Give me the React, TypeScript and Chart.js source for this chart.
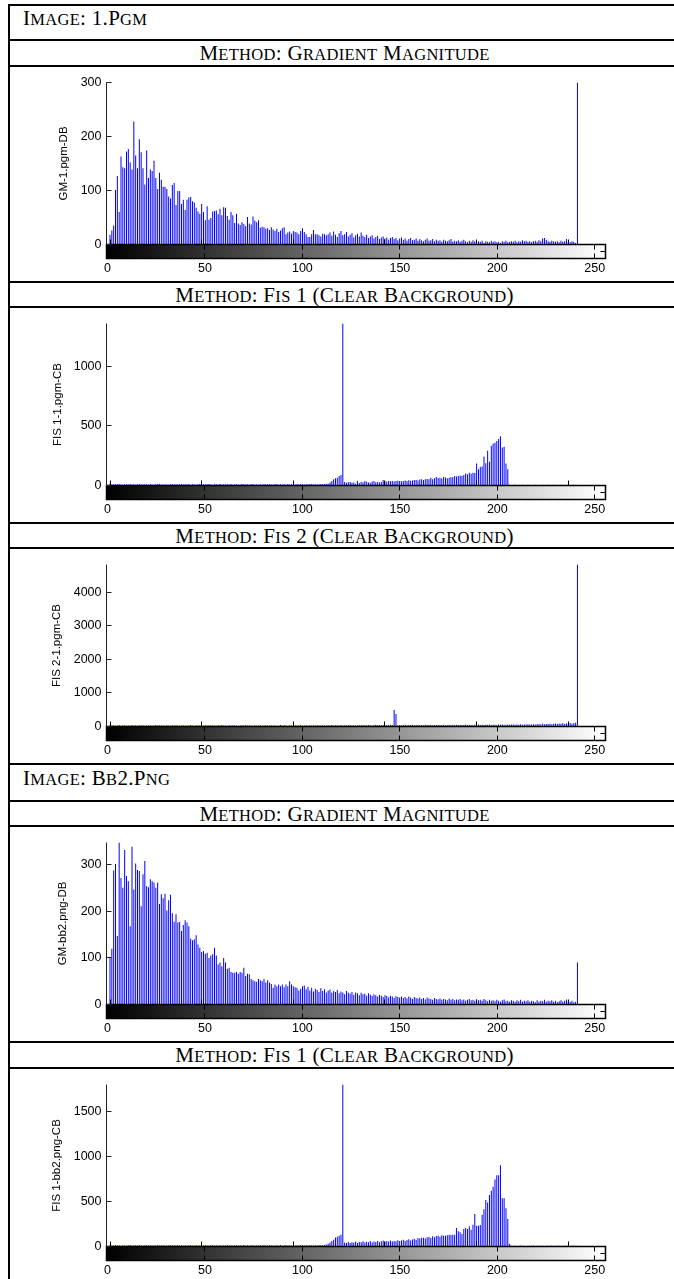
import React, { useEffect, useRef } from 'react';
import { Chart, registerables } from 'chart.js';

Chart.register(...registerables);

// ---------- data ----------
const BINS = Array.from({ length: 256 }, (_, i) => i); // histogram bins 0..255
const X_TICKS = [0, 50, 100, 150, 200, 250];

const GM_1 = [
  18, 26, 35, 101, 127, 60, 163, 143, 141, 172,
  177, 152, 139, 228, 165, 141, 195, 171, 141, 111,
  174, 123, 139, 136, 155, 123, 103, 133, 120, 107,
  107, 103, 89, 85, 110, 114, 73, 99, 99, 75,
  83, 64, 83, 87, 88, 80, 78, 68, 61, 57,
  75, 60, 45, 71, 46, 49, 61, 62, 63, 56,
  66, 54, 69, 68, 53, 46, 60, 54, 40, 57,
  39, 36, 41, 38, 34, 51, 39, 37, 52, 44,
  41, 45, 31, 33, 32, 29, 30, 27, 32, 28,
  25, 29, 23, 26, 30, 32, 19, 22, 24, 20,
  25, 23, 22, 19, 25, 30, 23, 19, 14, 14,
  19, 27, 19, 19, 17, 15, 20, 19, 17, 19,
  22, 16, 24, 18, 14, 21, 25, 17, 19, 23,
  15, 18, 21, 13, 17, 20, 15, 22, 16, 14,
  18, 12, 15, 17, 11, 14, 16, 10, 13, 15,
  11, 13, 9, 12, 14, 10, 12, 8, 11, 13,
  9, 11, 7, 10, 12, 8, 9, 11, 7, 10,
  8, 6, 9, 11, 7, 8, 10, 6, 9, 7,
  8, 5, 9, 7, 6, 8, 10, 5, 7, 6,
  8, 5, 7, 9, 6, 4, 7, 5, 8, 6,
  4, 6, 5, 7, 3, 6, 5, 4, 7, 5,
  6, 4, 5, 3, 6, 5, 7, 4, 5, 6,
  5, 7, 4, 6, 5, 8, 6, 7, 5, 6,
  4, 6, 7, 5, 8, 6, 11, 12, 9, 6,
  5, 7, 6, 5, 6, 4, 7, 5, 6, 10,
  5, 4, 6, 5, 3, 300,
];

const FIS1_1 = [
  12, 9, 11, 8, 10, 13, 9, 7, 11, 10,
  8, 12, 9, 11, 7, 10, 12, 8, 9, 11,
  10, 7, 13, 9, 8, 11, 10, 12, 8, 9,
  11, 9, 7, 10, 12, 8, 11, 9, 10, 13,
  8, 10, 9, 12, 7, 11, 9, 8, 10, 12,
  9, 11, 8, 10, 13, 9, 7, 11, 10, 8,
  12, 9, 10, 8, 11, 9, 12, 7, 10, 11,
  9, 8, 12, 10, 9, 11, 8, 10, 13, 9,
  10, 7, 11, 9, 12, 8, 10, 11, 9, 8,
  12, 10, 9, 11, 8, 10, 7, 12, 9, 11,
  10, 8, 11, 9, 12, 10, 8, 9, 11, 10,
  12, 9, 10, 8, 11, 13, 10, 12, 14,
  15, 25, 38, 52, 61, 66, 80, 89, 1360,
  30, 24, 28, 30, 24, 26, 14, 38, 22, 30,
  27, 38, 32, 25, 24, 33, 38, 28, 30, 26,
  30, 47, 38, 31, 38, 36, 38, 33, 38, 40,
  38, 35, 38, 41, 38, 44, 40, 42, 47, 47,
  43, 50, 52, 46, 52, 55, 52, 66, 52, 60,
  72, 63, 66, 58, 72, 68, 61, 66, 72, 70,
  80, 75, 80, 85, 80, 88, 100, 94, 108, 98,
  108, 104, 184, 136, 155, 160, 244, 187, 292, 200,
  334, 353, 359, 373, 390, 413, 320, 325, 184, 137,
  6, 5, 4, 6, 5, 4, 5, 6, 4, 5,
  6, 5, 4, 5, 6, 4, 5, 5, 6, 4,
  5, 6, 5, 4, 6, 5, 4, 5, 6, 5,
  4, 5, 6, 4, 5, 6, 5, 4,
];

const FIS2_1 = [
  40, 28, 35, 22, 30, 45, 26, 33, 38, 24,
  31, 27, 42, 29, 36, 25, 34, 30, 39, 26,
  33, 28, 37, 24, 31, 41, 27, 35, 29, 32,
  26, 38, 30, 23, 34, 29, 40, 27, 33, 31,
  36, 25, 32, 28, 43, 30, 26, 35, 29, 37,
  31, 24, 34, 28, 39, 27, 33, 30, 25, 36,
  29, 41, 27, 32, 26, 35, 30, 38, 28, 33,
  25, 31, 36, 29, 42, 27, 34, 30, 26, 37,
  32, 28, 35, 24, 33, 39, 27, 31, 36, 29,
  34, 26, 30, 41, 28, 35, 32, 25, 37, 30,
  27, 36, 31, 29, 44, 28, 33, 38, 26, 34,
  30, 37, 28, 35, 32, 27, 40, 31, 29, 36,
  33, 42, 30, 38, 35, 28, 45, 33, 39, 31,
  36, 44, 32, 40, 29, 37, 48, 34, 41, 38,
  35, 46, 39, 33, 42, 50, 37, 44, 36, 41,
  47, 38, 43, 52, 45, 490, 373, 40, 46, 39,
  44, 51, 38, 45, 42, 49, 36, 43, 47, 40,
  45, 39, 52, 44, 41, 48, 37, 46, 43, 50,
  42, 47, 54, 40, 45, 51, 43, 49, 46, 55,
  44, 50, 47, 41, 58, 46, 52, 48, 45, 53,
  49, 56, 47, 51, 44, 55, 50, 58, 46, 53,
  52, 48, 57, 50, 61, 49, 54, 59, 51, 56,
  60, 53, 58, 55, 64, 52, 62, 57, 66, 59,
  63, 70, 58, 67, 74, 61, 82, 69, 77, 72,
  85, 68, 79, 92, 75, 88, 81, 96, 78, 90,
  86, 102, 84, 97, 110, 4820,
];

const GM_BB2 = [
  100, 120, 288, 302, 147, 348, 272, 251, 332, 276,
  265, 168, 339, 247, 303, 289, 287, 211, 280, 308,
  254, 252, 269, 265, 262, 251, 262, 216, 237, 228,
  238, 202, 224, 236, 196, 178, 194, 176, 177, 158,
  171, 181, 176, 168, 141, 138, 140, 149, 129, 122,
  113, 115, 109, 111, 100, 105, 108, 122, 105, 86,
  90, 82, 100, 90, 77, 79, 70, 68, 68, 70,
  66, 70, 68, 79, 61, 66, 65, 55, 52, 50,
  49, 55, 52, 50, 55, 47, 52, 47, 44, 36,
  43, 39, 43, 39, 43, 37, 43, 39, 50, 43,
  39, 37, 36, 30, 34, 39, 41, 33, 38, 30,
  36, 28, 34, 31, 27, 35, 29, 33, 26, 30,
  32, 25, 29, 27, 31, 24, 28, 26, 22, 29,
  25, 23, 27, 21, 26, 24, 20, 25, 22, 23,
  19, 24, 21, 18, 22, 20, 17, 21, 19, 16,
  20, 18, 15, 19, 17, 14, 18, 16, 15, 17,
  14, 16, 13, 17, 15, 12, 16, 14, 13, 15,
  12, 14, 11, 15, 13, 12, 10, 14, 12, 11,
  13, 10, 12, 11, 9, 13, 10, 12, 9, 11,
  10, 12, 9, 11, 8, 10, 12, 9, 10, 8,
  11, 9, 10, 8, 12, 9, 7, 10, 8, 9,
  7, 10, 8, 6, 9, 11, 7, 8, 6, 9,
  8, 6, 9, 7, 10, 6, 8, 7, 9, 6,
  8, 7, 5, 9, 6, 8, 7, 10, 6, 8,
  7, 9, 6, 8, 5, 7, 9, 6, 8, 11,
  7, 6, 8, 5, 6, 90,
];

const FIS1_BB2 = [
  14, 10, 12, 16, 11, 13, 9, 15, 12, 10,
  13, 17, 11, 12, 14, 10, 16, 12, 11, 13,
  15, 11, 13, 10, 14, 12, 16, 11, 13, 15,
  12, 10, 14, 13, 11, 15, 12, 16, 10, 13,
  11, 14, 12, 13, 17, 10, 12, 15, 11, 14,
  13, 11, 16, 12, 10, 14, 13, 11, 15, 12,
  14, 10, 13, 12, 16, 11, 14, 12, 10, 15,
  12, 13, 11, 17, 12, 14, 10, 13, 15, 11,
  13, 12, 14, 10, 16, 12, 11, 15, 13, 12,
  11, 14, 12, 16, 10, 13, 15, 11, 14, 12,
  15, 11, 13, 12, 14, 16, 10, 13, 12, 15,
  13, 11, 14, 12, 16, 13, 15, 18, 22,
  30, 45, 60, 75, 100, 110, 120, 130, 1805,
  45, 40, 52, 38, 48, 42, 55, 40, 50, 46,
  58, 44, 52, 48, 60, 45, 55, 50, 62, 48,
  58, 66, 52, 60, 56, 68, 55, 62, 58, 70,
  60, 66, 75, 62, 72, 80, 68, 77, 85, 72,
  96, 88, 98, 98, 90, 102, 110, 96, 114, 104,
  118, 120, 110, 125, 121, 121, 125, 132, 128, 132,
  130, 206, 169, 158, 140, 195, 206, 195, 225, 188,
  243, 361, 232, 232, 240, 353, 416, 519, 489, 574,
  622, 666, 747, 795, 795, 905, 537, 537, 427, 306,
  30, 8, 7, 9, 6, 8, 10, 7, 9, 6,
  8, 7, 9, 10, 6, 8, 7, 9, 8, 6,
  9, 7, 8, 10, 6, 9, 7, 8, 6, 9,
  8, 7, 10, 6, 8, 9, 7, 8,
];

const Y_TICKS_GM_1 = [0, 100, 200, 300];
const Y_TICKS_FIS1_1 = [0, 500, 1000];
const Y_TICKS_FIS2_1 = [0, 1000, 2000, 3000, 4000];
const Y_TICKS_GM_BB2 = [0, 100, 200, 300];
const Y_TICKS_FIS1_BB2 = [0, 500, 1000, 1500];

const Y_MAX = [300, 1360, 4820, 348, 1805];
const Y_LABELS = ['GM-1.pgm-DB', 'FIS 1-1.pgm-CB', 'FIS 2-1.pgm-CB', 'GM-bb2.png-DB', 'FIS 1-bb2.png-CB'];

// ---------- layout / style ----------
const SANS = '"Liberation Sans", Arial, Helvetica, sans-serif';
const SERIF = '"Liberation Serif", "Times New Roman", Times, serif';
const CANVAS_W = 664;
const CANVAS_H = 214;
const CB_H = 14;
const STEM_MIN = -1.91;
const STEM_MAX = 270.3;

const LINES = [4.5, 40, 66, 282, 307, 523, 548, 764, 801, 826, 1042, 1068];

const PANELS = [
  { values: GM_1, yTicks: Y_TICKS_GM_1, yMax: Y_MAX[0], label: Y_LABELS[0], lineY: 66, labelX: 64 },
  { values: FIS1_1, yTicks: Y_TICKS_FIS1_1, yMax: Y_MAX[1], label: Y_LABELS[1], lineY: 307, labelX: 58.3 },
  { values: FIS2_1, yTicks: Y_TICKS_FIS2_1, yMax: Y_MAX[2], label: Y_LABELS[2], lineY: 548, labelX: 56.7 },
  { values: GM_BB2, yTicks: Y_TICKS_GM_BB2, yMax: Y_MAX[3], label: Y_LABELS[3], lineY: 826, labelX: 63.3 },
  { values: FIS1_BB2, yTicks: Y_TICKS_FIS1_BB2, yMax: Y_MAX[4], label: Y_LABELS[4], lineY: 1068, labelX: 56.7 },
];

const HEADERS = [
  { text: 'Image: 1.Pgm', baseline: 25.5, center: false },
  { text: 'Method: Gradient Magnitude', baseline: 60, center: true },
  { text: 'Method: Fis 1 (Clear Background)', baseline: 302, center: true },
  { text: 'Method: Fis 2 (Clear Background)', baseline: 543, center: true },
  { text: 'Image: Bb2.Png', baseline: 785, center: false },
  { text: 'Method: Gradient Magnitude', baseline: 821, center: true },
  { text: 'Method: Fis 1 (Clear Background)', baseline: 1062, center: true },
];

const histAxes = {
  id: 'histAxes',
  afterDatasetsDraw(chart: any) {
    const { ctx, chartArea } = chart;
    const { left, top, bottom } = chartArea;
    const xs = chart.scales.x;
    const xc = chart.scales.xc;
    const ys = chart.scales.y;
    const snap = (v: number) => Math.round(v - 0.5) + 0.5;
    ctx.save();
    // colour bar
    const cbL = xc.getPixelForValue(xc.min);
    const cbR = xc.getPixelForValue(xc.max);
    const cbT = bottom;
    const cbB = bottom + CB_H;
    const g = ctx.createLinearGradient(cbL, 0, cbR, 0);
    g.addColorStop(0, '#000000');
    g.addColorStop(1, '#ffffff');
    ctx.fillStyle = g;
    ctx.fillRect(cbL, cbT, cbR - cbL, CB_H);
    ctx.strokeStyle = '#000';
    ctx.lineWidth = 1.5;
    ctx.strokeRect(cbL, cbT, cbR - cbL, CB_H);
    ctx.lineWidth = 1;
    ctx.beginPath();
    for (const t of X_TICKS) {
      const x = snap(xc.getPixelForValue(t));
      ctx.moveTo(x, cbT);
      ctx.lineTo(x, cbT + 5);
      ctx.moveTo(x, cbB - 5);
      ctx.lineTo(x, cbB);
    }
    const ym = snap((cbT + cbB) / 2);
    ctx.moveTo(cbR - 5, ym);
    ctx.lineTo(cbR, ym);
    // histogram axis ticks (pointing up from the baseline)
    for (const t of X_TICKS) {
      const x = snap(xs.getPixelForValue(t));
      ctx.moveTo(x, bottom);
      ctx.lineTo(x, bottom - 5);
    }
    ctx.stroke();
    // y axis line with inward ticks
    ctx.strokeStyle = '#222';
    ctx.beginPath();
    const ax = snap(left);
    ctx.moveTo(ax, top);
    ctx.lineTo(ax, bottom);
    for (const t of ys.ticks) {
      const y = snap(ys.getPixelForValue(t.value));
      ctx.moveTo(ax, y);
      ctx.lineTo(ax + 5, y);
    }
    ctx.stroke();
    ctx.restore();
  },
};

function makeConfig(p: any): any {
  return {
    type: 'bar',
    data: {
      datasets: [
        {
          data: p.values.map((v: number, i: number) => ({ x: BINS[i], y: v })),
          backgroundColor: '#0000ff',
          borderWidth: 0,
          barThickness: 1,
          inflateAmount: 0,
          xAxisID: 'x',
          yAxisID: 'y',
        },
      ],
    },
    options: {
      responsive: false,
      animation: false,
      events: [],
      layout: { padding: { top: 15.5, right: 68.5, left: 0, bottom: 0 } },
      plugins: { legend: { display: false }, tooltip: { enabled: false } },
      scales: {
        x: { type: 'linear', display: false, min: STEM_MIN, max: STEM_MAX, offset: false },
        xc: {
          type: 'linear',
          axis: 'x',
          position: 'bottom',
          min: -0.5,
          max: 255.5,
          offset: false,
          grid: { display: false, drawTicks: false },
          border: { display: false },
          ticks: {
            font: { family: SANS, size: 12.5 },
            color: '#000',
            padding: 16.5,
            maxRotation: 0,
            autoSkip: false,
            callback: (v: any) => String(v),
          },
          afterBuildTicks: (s: any) => {
            s.ticks = X_TICKS.map((v) => ({ value: v }));
          },
          afterFit: (s: any) => {
            s.height = CANVAS_H - 177.5;
          },
        },
        y: {
          type: 'linear',
          position: 'left',
          min: 0,
          max: p.yMax,
          grid: { display: false, drawTicks: false },
          border: { display: false },
          ticks: {
            font: { family: SANS, size: 12.5 },
            color: '#000',
            padding: 5,
            callback: (v: any) => String(v),
          },
          afterBuildTicks: (s: any) => {
            s.ticks = p.yTicks.map((v: number) => ({ value: v }));
          },
          afterFit: (s: any) => {
            s.width = 96.5;
          },
          title: {
            display: true,
            text: p.label,
            color: '#000',
            font: { family: SANS, size: 11.5 },
            padding: { top: p.labelX - 10 - 6.9, bottom: 0 },
          },
        },
      },
    },
    plugins: [histAxes],
  };
}

function HistPanel({ panel }: { panel: any }) {
  const ref = useRef<HTMLCanvasElement>(null);
  useEffect(() => {
    const chart = new Chart(ref.current as HTMLCanvasElement, makeConfig(panel));
    return () => chart.destroy();
  }, [panel]);
  return (
    <canvas
      ref={ref}
      width={CANVAS_W}
      height={CANVAS_H}
      style={{ position: 'absolute', left: 10, top: panel.lineY + 1, width: CANVAS_W, height: CANVAS_H }}
    />
  );
}

function SmallCaps({ text }: { text: string }) {
  const parts: { t: string; small: boolean }[] = [];
  for (const ch of text) {
    const small = ch >= 'a' && ch <= 'z';
    const last = parts[parts.length - 1];
    if (last && last.small === small) last.t += ch;
    else parts.push({ t: ch, small });
  }
  return (
    <>
      {parts.map((p, i) =>
        p.small ? (
          <span key={i} style={{ fontSize: 16.5, textTransform: 'uppercase' }}>
            {p.t}
          </span>
        ) : (
          <span key={i}>{p.t}</span>
        )
      )}
    </>
  );
}

export default function App() {
  return (
    <div
      style={{
        position: 'absolute',
        left: 0,
        top: 0,
        width: 674,
        height: 1279,
        overflow: 'hidden',
        background: '#fff',
      }}
    >
      {LINES.map((y, i) => (
        <div
          key={'l' + i}
          style={{ position: 'absolute', left: 7.5, top: y - 1, width: 674 - 7.5, height: 2, background: '#000' }}
        />
      ))}
      <div style={{ position: 'absolute', left: 7.5, top: 3.5, width: 2, height: 1279, background: '#000' }} />
      {HEADERS.map((h, i) => (
        <div
          key={'h' + i}
          style={{
            position: 'absolute',
            top: h.baseline - 19.1,
            left: h.center ? 0 : 23,
            width: h.center ? 689 : 400,
            textAlign: h.center ? 'center' : 'left',
            fontFamily: SERIF,
            fontSize: 21,
            lineHeight: '24px',
            letterSpacing: 0.3,
            color: '#000',
            whiteSpace: 'nowrap',
          }}
        >
          <SmallCaps text={h.text} />
        </div>
      ))}
      {PANELS.map((p, i) => (
        <HistPanel key={'p' + i} panel={p} />
      ))}
    </div>
  );
}
